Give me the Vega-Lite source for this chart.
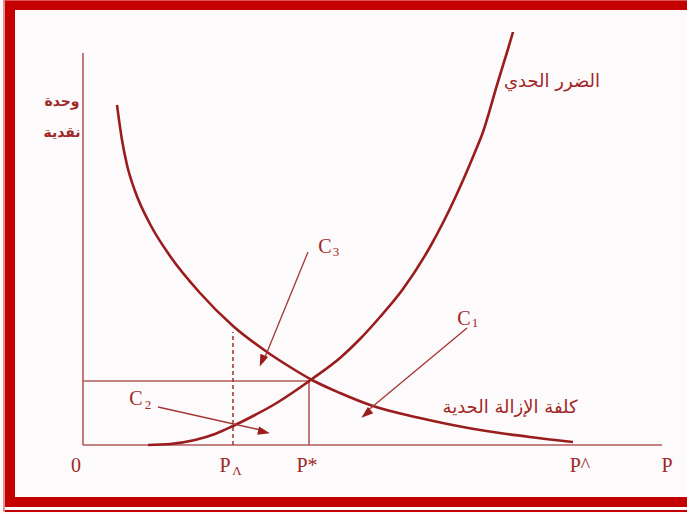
{
  "$schema": "https://vega.github.io/schema/vega-lite/v6.json",
  "width": 687,
  "height": 514,
  "autosize": "none",
  "padding": 0,
  "background": "#fcfafa",
  "view": {"stroke": null},
  "datasets": {
    "curves": [
      {"curve": "MD", "x": 65, "y": 0}, {"curve": "MD", "x": 87, "y": 1}, {"curve": "MD", "x": 112, "y": 5},
      {"curve": "MD", "x": 132, "y": 11}, {"curve": "MD", "x": 150, "y": 19}, {"curve": "MD", "x": 172, "y": 30},
      {"curve": "MD", "x": 192, "y": 41}, {"curve": "MD", "x": 212, "y": 54}, {"curve": "MD", "x": 229, "y": 66},
      {"curve": "MD", "x": 257, "y": 87}, {"curve": "MD", "x": 277, "y": 106}, {"curve": "MD", "x": 297, "y": 128},
      {"curve": "MD", "x": 320, "y": 156}, {"curve": "MD", "x": 347, "y": 198}, {"curve": "MD", "x": 372, "y": 247},
      {"curve": "MD", "x": 392, "y": 293}, {"curve": "MD", "x": 400, "y": 313}, {"curve": "MD", "x": 414, "y": 360},
      {"curve": "MD", "x": 425, "y": 396}, {"curve": "MD", "x": 430, "y": 413},
      {"curve": "MAC", "x": 34, "y": 340}, {"curve": "MAC", "x": 39, "y": 305}, {"curve": "MAC", "x": 44, "y": 280},
      {"curve": "MAC", "x": 52, "y": 254}, {"curve": "MAC", "x": 67, "y": 221}, {"curve": "MAC", "x": 87, "y": 189},
      {"curve": "MAC", "x": 117, "y": 152}, {"curve": "MAC", "x": 150, "y": 119}, {"curve": "MAC", "x": 184, "y": 93},
      {"curve": "MAC", "x": 207, "y": 78}, {"curve": "MAC", "x": 229, "y": 65}, {"curve": "MAC", "x": 257, "y": 52},
      {"curve": "MAC", "x": 290, "y": 39}, {"curve": "MAC", "x": 337, "y": 27}, {"curve": "MAC", "x": 380, "y": 18},
      {"curve": "MAC", "x": 417, "y": 12}, {"curve": "MAC", "x": 447, "y": 8}, {"curve": "MAC", "x": 490, "y": 3}
    ],
    "guides": [
      {"g": "xaxis", "x": 0, "x2": 579, "y": 0, "y2": 0},
      {"g": "yaxis", "x": 0, "x2": 0, "y": 0, "y2": 392},
      {"g": "hline", "x": 0, "x2": 227, "y": 64, "y2": 64},
      {"g": "vline", "x": 226, "x2": 226, "y": 0, "y2": 64},
      {"g": "dash", "x": 150, "x2": 150, "y": 0, "y2": 113}
    ],
    "arrows": [
      {"id": "C3", "x": 225, "y": 193, "x2": 180, "y2": 83},
      {"id": "C2", "x": 75, "y": 38, "x2": 182, "y2": 14},
      {"id": "C1", "x": 384, "y": 117, "x2": 283, "y2": 33}
    ],
    "heads": [
      {"id": "C3", "x": 179, "y": 84},
      {"id": "C2", "x": 181, "y": 13},
      {"id": "C1", "x": 283, "y": 31}
    ],
    "labels": [
      {"grp": "main", "t": "0", "x": -7, "y": -21},
      {"grp": "main", "t": "P", "x": 142, "y": -21},
      {"grp": "main", "t": "P*", "x": 224, "y": -21},
      {"grp": "main", "t": "P^", "x": 497, "y": -21},
      {"grp": "main", "t": "P", "x": 584, "y": -21},
      {"grp": "main", "t": "C", "x": 242, "y": 198},
      {"grp": "main", "t": "C", "x": 53, "y": 46},
      {"grp": "main", "t": "C", "x": 381, "y": 126},
      {"grp": "sub", "t": "Λ", "x": 154, "y": -26},
      {"grp": "sub", "t": "3", "x": 253, "y": 193},
      {"grp": "sub", "t": "2", "x": 65, "y": 40},
      {"grp": "sub", "t": "1", "x": 392, "y": 122},
      {"grp": "ar", "t": "الضرر الحدي", "x": 469, "y": 363},
      {"grp": "ar", "t": "كلفة الإزالة الحدية", "x": 427, "y": 37},
      {"grp": "arb", "t": "وحدة", "x": -21, "y": 343},
      {"grp": "arb", "t": "نقدية", "x": -21, "y": 312}
    ]
  },
  "encoding": {
    "x": {"field": "x", "type": "quantitative", "scale": {"domain": [-83, 604], "nice": false, "zero": false}, "axis": null},
    "y": {"field": "y", "type": "quantitative", "scale": {"domain": [-69, 445], "nice": false, "zero": false}, "axis": null}
  },
  "layer": [
    {
      "data": {"values": [{"x": -73, "x2": 640, "y": 440, "y2": -57}]},
      "mark": {"type": "rect", "fillOpacity": 0, "stroke": "#c40000", "strokeWidth": 10},
      "encoding": {"x2": {"field": "x2"}, "y2": {"field": "y2"}}
    },
    {
      "data": {"values": [{"x": -79, "x2": 640, "y": 445, "y2": -66}]},
      "mark": {"type": "rect", "fillOpacity": 0, "stroke": "#e07070", "strokeWidth": 1.5},
      "encoding": {"x2": {"field": "x2"}, "y2": {"field": "y2"}}
    },
    {
      "data": {"values": [{"x": -78, "x2": 640, "y": -66, "y2": -66}]},
      "mark": {"type": "rule", "color": "#c40000", "strokeWidth": 2},
      "encoding": {"x2": {"field": "x2"}, "y2": {"field": "y2"}}
    },
    {
      "data": {"name": "guides"},
      "transform": [{"filter": "datum.g !== 'dash'"}],
      "mark": {"type": "rule", "color": "#b35a5a", "strokeWidth": 1.6},
      "encoding": {"x2": {"field": "x2"}, "y2": {"field": "y2"}}
    },
    {
      "data": {"name": "guides"},
      "transform": [{"filter": "datum.g === 'dash'"}],
      "mark": {"type": "rule", "color": "#a83a3a", "strokeWidth": 1.6, "strokeDash": [4, 3]},
      "encoding": {"x2": {"field": "x2"}, "y2": {"field": "y2"}}
    },
    {
      "data": {"name": "curves"},
      "mark": {"type": "line", "color": "#9b1c1c", "strokeWidth": 2.6, "interpolate": "monotone"},
      "encoding": {"detail": {"field": "curve"}}
    },
    {
      "data": {"name": "arrows"},
      "mark": {"type": "rule", "color": "#a53535", "strokeWidth": 1.3},
      "encoding": {"x2": {"field": "x2"}, "y2": {"field": "y2"}}
    },
    {
      "data": {"name": "heads"},
      "transform": [{"filter": "datum.id === 'C3'"}],
      "mark": {"type": "point", "shape": "M0,-1L0.7,1L-0.7,1Z", "filled": true, "color": "#9b1c1c", "opacity": 1, "size": 144, "angle": 202}
    },
    {
      "data": {"name": "heads"},
      "transform": [{"filter": "datum.id === 'C2'"}],
      "mark": {"type": "point", "shape": "M0,-1L0.7,1L-0.7,1Z", "filled": true, "color": "#9b1c1c", "opacity": 1, "size": 144, "angle": 103}
    },
    {
      "data": {"name": "heads"},
      "transform": [{"filter": "datum.id === 'C1'"}],
      "mark": {"type": "point", "shape": "M0,-1L0.7,1L-0.7,1Z", "filled": true, "color": "#9b1c1c", "opacity": 1, "size": 144, "angle": 230}
    },
    {
      "data": {"name": "labels"},
      "transform": [{"filter": "datum.grp === 'main'"}],
      "mark": {"type": "text", "font": "Liberation Serif", "fontSize": 20, "color": "#a02828", "baseline": "middle", "align": "center"},
      "encoding": {"text": {"field": "t"}}
    },
    {
      "data": {"name": "labels"},
      "transform": [{"filter": "datum.grp === 'sub'"}],
      "mark": {"type": "text", "font": "Liberation Serif", "fontSize": 13, "color": "#a02828", "baseline": "middle", "align": "center"},
      "encoding": {"text": {"field": "t"}}
    },
    {
      "data": {"name": "labels"},
      "transform": [{"filter": "datum.grp === 'ar'"}],
      "mark": {"type": "text", "font": "DejaVu Sans", "fontSize": 18, "color": "#a02828", "baseline": "middle", "align": "center"},
      "encoding": {"text": {"field": "t"}}
    },
    {
      "data": {"name": "labels"},
      "transform": [{"filter": "datum.grp === 'arb'"}],
      "mark": {"type": "text", "font": "DejaVu Sans", "fontSize": 14, "fontWeight": "bold", "color": "#a02828", "baseline": "middle", "align": "center"},
      "encoding": {"text": {"field": "t"}}
    }
  ]
}
